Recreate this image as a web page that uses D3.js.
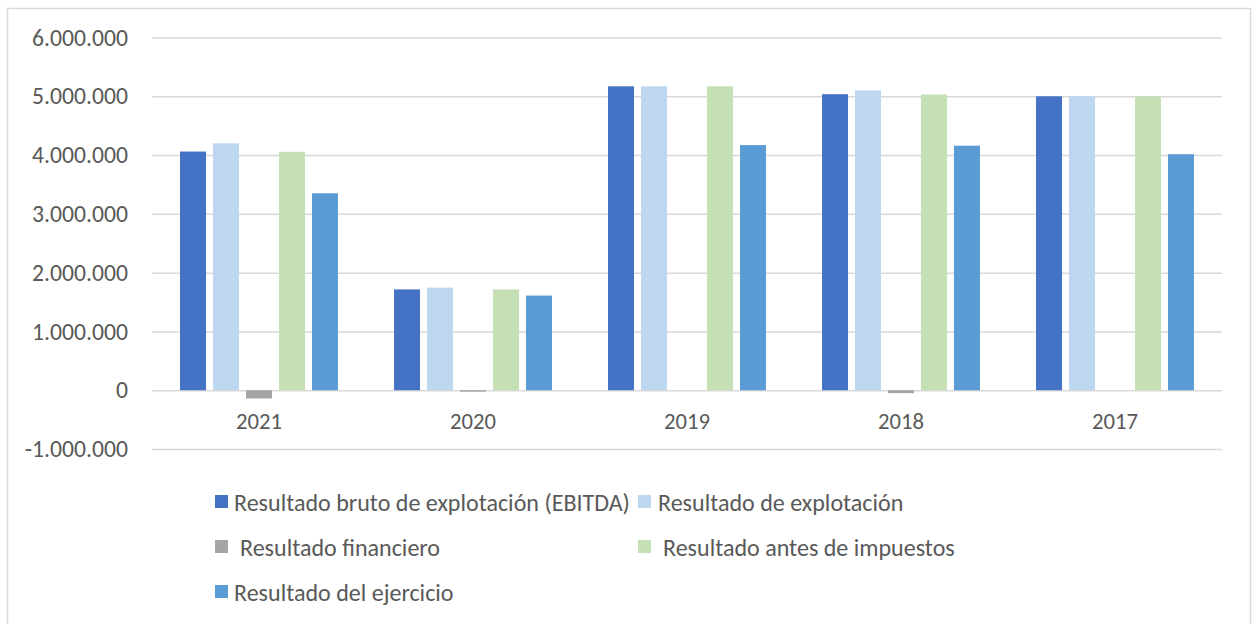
<!DOCTYPE html>
<html>
<head>
<meta charset="utf-8">
<script src="https://cdn.jsdelivr.net/npm/d3@7"></script>
<style>
  html, body { margin: 0; padding: 0; background: #ffffff; }
  svg { display: block; }
  text { font-family: Carlito, "Liberation Sans Narrow", "Open Sans", "Noto Sans", sans-serif; fill: #595959; }
</style>
</head>
<body>
<svg id="chart" width="1256" height="624"></svg>
<script>
const categories = ["2021", "2020", "2019", "2018", "2017"];
const seriesNames = [
  "Resultado bruto de explotación (EBITDA)",
  "Resultado de explotación",
  "Resultado financiero",
  "Resultado antes de impuestos",
  "Resultado del ejercicio"
];
const ebitda          = [4060000, 1715000, 5170000, 5035000, 5000000];
const explotacion     = [4200000, 1745000, 5170000, 5100000, 5000000];
const financiero      = [-140000,  -25000,       0,  -50000,       0];
const antesImpuestos  = [4055000, 1715000, 5170000, 5030000, 4995000];
const ejercicio       = [3350000, 1610000, 4170000, 4160000, 4015000];
const yTicks = [-1000000, 0, 1000000, 2000000, 3000000, 4000000, 5000000, 6000000];

const colors = ["#4472C4", "#BDD7EE", "#A5A5A5", "#C5E0B4", "#5B9BD5"];
const seriesValues = [ebitda, explotacion, financiero, antesImpuestos, ejercicio];

const svg = d3.select("#chart");

// outer chart border
svg.append("rect")
  .attr("x", 7.5).attr("y", 8.5)
  .attr("width", 1243).attr("height", 700)
  .attr("fill", "#ffffff").attr("stroke", "#d9d9d9").attr("stroke-width", 1.5);

const locale = d3.formatLocale({ decimal: ",", thousands: ".", grouping: [3], currency: ["", ""], minus: "-" });
const fmt = locale.format(",.0f");

const y = d3.scaleLinear().domain([-1000000, 6000000]).range([449, 37.5]);
const x0 = d3.scaleBand().domain(categories).range([152, 1222]).paddingInner(0.262).paddingOuter(0.131);
const x1 = d3.scaleBand().domain(d3.range(seriesNames.length)).range([0, x0.bandwidth()]).paddingInner(0.212).paddingOuter(0);

// helper to fit a font size so that a reference string has a target width
function fitSize(str, targetWidth) {
  const t = svg.append("text").attr("font-size", 100).text(str);
  const w = t.node().getComputedTextLength();
  t.remove();
  return 100 * targetWidth / w;
}
const axisFont = fitSize("6.000.000", 96);
const yearFont = fitSize("2021", 46);
const legendFont = fitSize("Resultado bruto de explotación (EBITDA)", 396);

// gridlines
const yAxis = d3.axisLeft(y).tickValues(yTicks).tickFormat(fmt).tickSize(-(1222 - 152)).tickPadding(24);
const gy = svg.append("g").attr("transform", "translate(152,0)").call(yAxis);
gy.select(".domain").remove();
gy.selectAll(".tick line").attr("stroke", "#d9d9d9").attr("stroke-width", 1.5);
gy.selectAll(".tick text").attr("font-size", axisFont).attr("fill", "#595959")
  .attr("font-family", null).attr("x", 128 - 152);

// bars
const rows = categories.map((c, i) => ({ cat: c, vals: seriesValues.map((s, k) => ({ k, v: s[i] })) }));
const groups = svg.append("g").selectAll("g").data(rows).join("g")
  .attr("transform", d => `translate(${x0(d.cat)},0)`);
groups.selectAll("rect").data(d => d.vals).join("rect")
  .attr("x", d => x1(d.k))
  .attr("width", x1.bandwidth())
  .attr("y", d => y(Math.max(0, d.v)))
  .attr("height", d => Math.abs(y(d.v) - y(0)))
  .attr("fill", d => colors[d.k]);

// category axis labels
const xAxis = d3.axisBottom(x0).tickSize(0).tickPadding(0);
const gx = svg.append("g").attr("transform", `translate(0,${y(0)})`).call(xAxis);
gx.select(".domain").remove();
gx.selectAll(".tick text").attr("font-size", yearFont).attr("fill", "#595959")
  .attr("font-family", null).attr("dy", null).attr("y", 429 - y(0));

// legend
const legendPos = [
  { sx: 215, sy: 495, tx: 234, ty: 502 },
  { sx: 638, sy: 495, tx: 658, ty: 502 },
  { sx: 215, sy: 540, tx: 240, ty: 547 },
  { sx: 638, sy: 540, tx: 663, ty: 547 },
  { sx: 215, sy: 585, tx: 234, ty: 592 }
];
const lg = svg.append("g").selectAll("g").data(seriesNames).join("g");
lg.append("rect")
  .attr("x", (d, i) => legendPos[i].sx).attr("y", (d, i) => legendPos[i].sy)
  .attr("width", 13).attr("height", 13)
  .attr("fill", (d, i) => colors[i]);
lg.append("text")
  .attr("x", (d, i) => legendPos[i].tx).attr("y", (d, i) => legendPos[i].ty)
  .attr("dominant-baseline", "central")
  .attr("font-size", legendFont)
  .text(d => d);
</script>
</body>
</html>
